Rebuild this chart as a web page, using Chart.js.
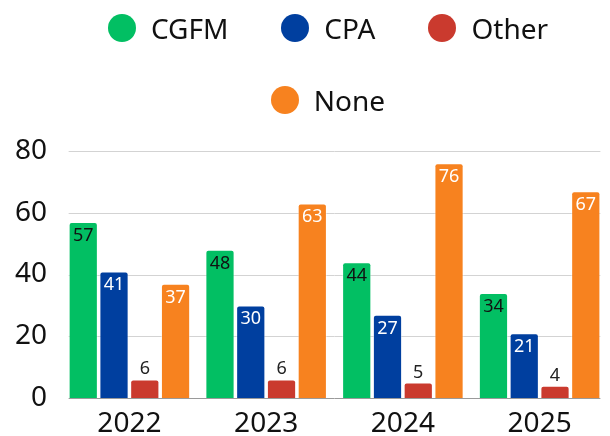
<!DOCTYPE html>
<html>
<head>
<meta charset="utf-8">
<script src="https://cdn.jsdelivr.net/npm/chart.js@4"></script>
<style>
    body { margin: 0; background: #fff; }
    .wrap { position: relative; width: 610px; height: 436px; }
    #legend {
        position: absolute; top: 14px; left: 46px; right: 0;
        display: flex; flex-wrap: wrap; justify-content: center;
        column-gap: 53px; row-gap: 44px;
        font-family: 'Noto Sans', sans-serif; font-size: 28px; color: #111;
    }
    .legend-item { display: flex; align-items: center; height: 28px; line-height: 28px; }
    .legend-dot { width: 28px; height: 28px; border-radius: 50%; margin-right: 15px; }
</style>
</head>
<body>
<div class="wrap">
    <canvas id="chart" width="610" height="436"></canvas>
    <div id="legend"></div>
</div>
<script>
// Data
const years = ['2022', '2023', '2024', '2025'];
const seriesNames = ['CGFM', 'CPA', 'Other', 'None'];
const cgfm = [57, 48, 44, 34];
const cpa = [41, 30, 27, 21];
const other = [6, 6, 5, 4];
const none = [37, 63, 76, 67];
const yTicks = [0, 20, 40, 60, 80];

const colors = ['#02bf63', '#003f9f', '#ca3a2e', '#f7821f'];
const labelColors = ['#111', '#fff', '#222', '#fff'];

// Grid drawn only across the bar groups
const gridPlugin = {
    id: 'groupGrid',
    beforeDatasetsDraw(chart) {
        const ctx = chart.ctx;
        const y = chart.scales.y;
        const first = chart.getDatasetMeta(0).data[0];
        const lastMeta = chart.getDatasetMeta(chart.data.datasets.length - 1);
        const last = lastMeta.data[lastMeta.data.length - 1];
        const left = first.x - first.width / 2;
        const right = last.x + last.width / 2;
        ctx.save();
        ctx.lineWidth = 1;
        yTicks.forEach(v => {
            const py = Math.round(y.getPixelForValue(v)) + 0.5;
            ctx.strokeStyle = v === 0 ? '#9a9a9a' : '#d3d3d3';
            ctx.beginPath();
            ctx.moveTo(left, py);
            ctx.lineTo(right, py);
            ctx.stroke();
        });
        ctx.restore();
    }
};

// Value labels: inside the bar top, or above it when the bar is short
const valuePlugin = {
    id: 'valueLabels',
    afterDatasetsDraw(chart) {
        const ctx = chart.ctx;
        ctx.save();
        ctx.font = '18px "Noto Sans", sans-serif';
        ctx.textAlign = 'center';
        ctx.textBaseline = 'alphabetic';
        chart.data.datasets.forEach((ds, i) => {
            chart.getDatasetMeta(i).data.forEach((bar, j) => {
                const h = bar.base - bar.y;
                if (h < 30) {
                    ctx.fillStyle = '#222';
                    ctx.fillText(ds.data[j], bar.x, bar.y - 5);
                } else {
                    ctx.fillStyle = labelColors[i];
                    ctx.fillText(ds.data[j], bar.x, bar.y + 19);
                }
            });
        });
        ctx.restore();
    }
};

function buildLegend() {
    const legend = document.getElementById('legend');
    legend.innerHTML = seriesNames.map((name, i) => `
        <div class="legend-item">
            <span class="legend-dot" style="background:${colors[i]}"></span>${name}
        </div>
    `).join('');
}

function createChart() {
    const ctx = document.getElementById('chart').getContext('2d');
    const values = [cgfm, cpa, other, none];

    new Chart(ctx, {
        type: 'bar',
        data: {
            labels: years,
            datasets: seriesNames.map((name, i) => ({
                label: name,
                data: values[i],
                backgroundColor: colors[i],
                borderColor: 'rgba(255,255,255,0.45)',
                borderWidth: 1,
                borderRadius: 3,
                borderSkipped: 'bottom',
                categoryPercentage: 0.9,
                barPercentage: 0.95
            }))
        },
        options: {
            responsive: false,
            animation: false,
            layout: { padding: { top: 151, left: 1, right: 2, bottom: -14 } },
            plugins: {
                legend: { display: false },
                tooltip: { enabled: false }
            },
            scales: {
                x: {
                    grid: { display: false, drawTicks: false },
                    border: { display: false },
                    ticks: {
                        color: '#111',
                        padding: 12,
                        font: { family: 'Noto Sans', size: 28, lineHeight: 1 }
                    }
                },
                y: {
                    min: 0,
                    max: 80,
                    grid: { display: false, drawTicks: false },
                    border: { display: false },
                    afterBuildTicks: axis => { axis.ticks = yTicks.map(v => ({ value: v })); },
                    ticks: {
                        color: '#111',
                        padding: 14,
                        font: { family: 'Noto Sans', size: 28 }
                    }
                }
            }
        },
        plugins: [gridPlugin, valuePlugin]
    });
}

document.addEventListener('DOMContentLoaded', () => {
    buildLegend();
    createChart();
});
</script>
</body>
</html>
